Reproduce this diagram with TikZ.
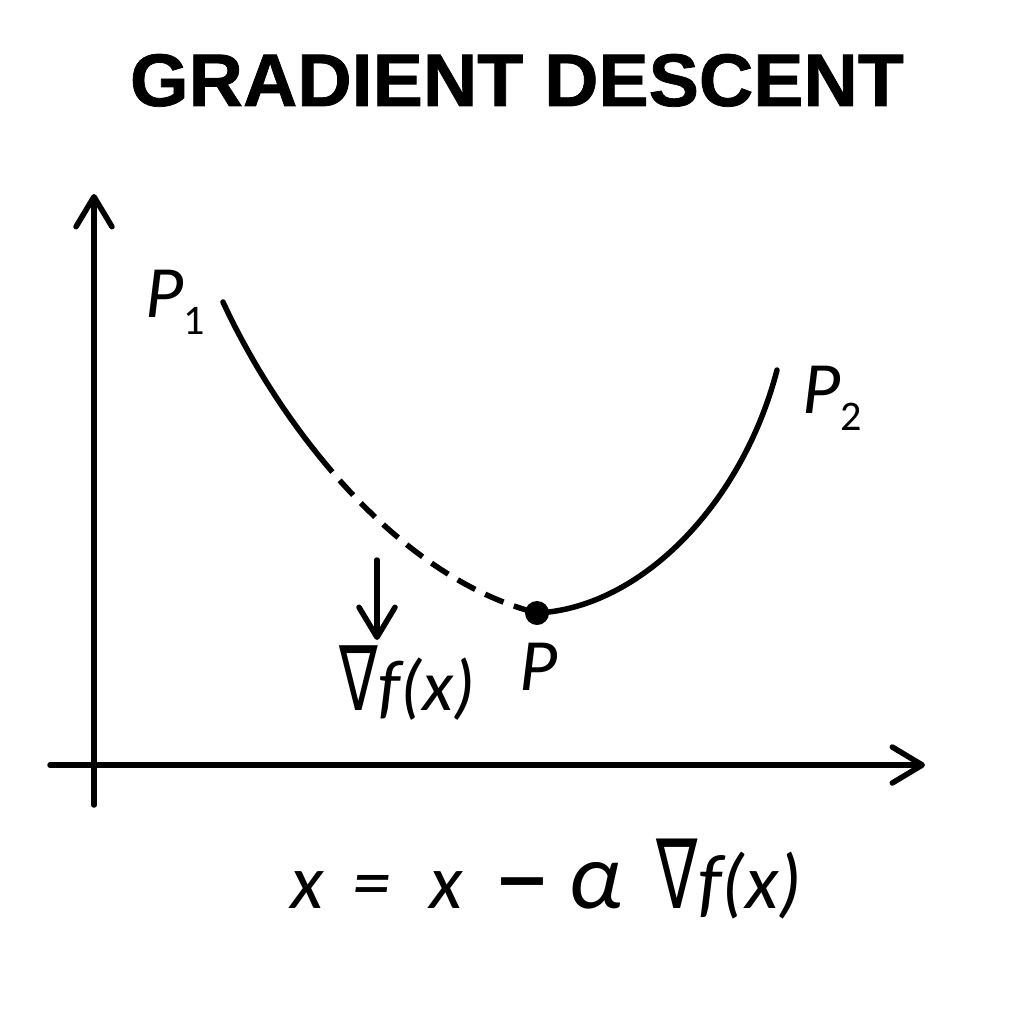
\documentclass[tikz,border=0pt]{standalone}
\usepackage{fontspec}
\usepackage{graphicx}
\setmainfont{Carlito}
\newfontfamily\titlefont[FakeBold=1]{Liberation Sans Bold}
\newfontfamily\nablafont{DejaVu Sans}
\usetikzlibrary{arrows.meta}

\newcommand{\lowsub}[1]{\raisebox{-5pt}{\upshape\fontsize{12}{14}\selectfont #1}}
\newcommand{\nab}{\scalebox{0.8}[1.25]{\nablafont\upshape ∇}}

\tikzset{
  lbl/.style={anchor=base west, inner sep=0pt, font=\fontsize{21}{24}\selectfont\itshape},
  gradlbl/.style={anchor=base west, inner sep=0pt, font=\fontsize{20.5}{24}\selectfont\itshape},
  eqlbl/.style={anchor=base west, inner sep=0pt, font=\fontsize{22}{26}\selectfont\itshape}
}

\begin{document}
\begin{tikzpicture}[>={Straight Barb[length=3mm,width=3.6mm,round]}, line width=0.55mm, line cap=round, x=0.1mm, y=-0.1mm]
    \useasboundingbox[fill=white] (0,0) rectangle (1024,1024);

    % 标题
    \node[anchor=base, inner sep=0pt] (title) at (517,106) {\resizebox{77.4mm}{5.2mm}{\titlefont GRADIENT DESCENT}};

    % 坐标轴
    \coordinate (ybot) at (94,805);
    \coordinate (ytop) at (94,194);
    \coordinate (xleft) at (50,765);
    \coordinate (xright) at (925,765);
    \draw[->] (ybot) -- (ytop);
    \draw[->] (xleft) -- (xright);

    % 曲线 (左段实线 + 虚线, 右段实线)
    \coordinate (p1) at (223,302);
    \coordinate (split) at (319.6,456.7);
    \coordinate (p) at (537,613);
    \coordinate (p2) at (777,370);
    \draw (p1) .. controls (244.8,349.5) and (277.8,405.2) .. (split);
    \draw[dash pattern=on 2mm off 1.1mm, line cap=butt] (split) .. controls (377.2,527.9) and (451.7,591.0) .. (p);
    \draw (p) .. controls (640,608) and (742,505) .. (p2);
    \fill (p) circle[radius=1.2mm];

    % 梯度方向
    \coordinate (gtop) at (377,560);
    \coordinate (gtip) at (377,640);
    \draw[->] (gtop) -- (gtip);
    \node[gradlbl] (grad) at (337,710) {\nab f(x)};

    % 点的标签
    \node[lbl] (lp1) at (143,317) {P\lowsub{1}};
    \node[lbl] (lp2) at (800,413) {P\lowsub{2}};
    \node[lbl] (lp) at (517,690) {P};

    % 更新公式
    \node[eqlbl] (update) at (288,908) {x\hspace{8pt}=\hspace{11pt}x\hspace{9pt}\raisebox{1.5pt}{\nablafont\bfseries\upshape\fontsize{19}{22}\selectfont −}\hspace{5pt}{\fontsize{27}{30}\selectfont α}\hspace{10pt}\nab f(x)};
\end{tikzpicture}
\end{document}
